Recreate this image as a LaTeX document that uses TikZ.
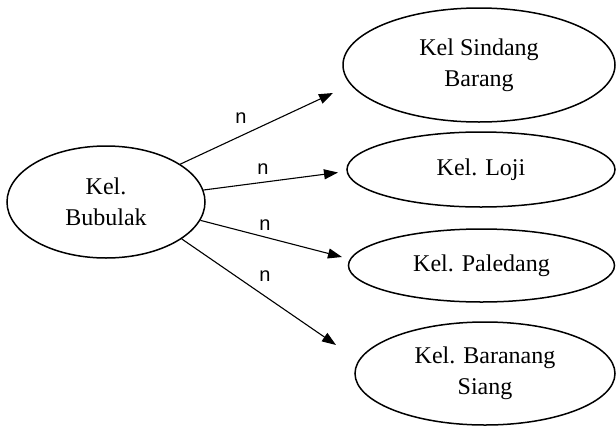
\documentclass[tikz,border=0pt]{standalone}
\usepackage{fontspec}
\setmainfont{Liberation Serif}
\newfontfamily\labelfont{Liberation Sans}
\usetikzlibrary{shapes.geometric,arrows.meta}
\tikzset{
  place/.style={ellipse,draw,line width=1.5pt,inner sep=0pt,align=center,
    font=\fontsize{24}{31}\selectfont},
  link/.style={line width=1.1pt,-{Triangle[length=14pt,width=10pt]}},
  nlabel/.style={font=\labelfont\fontsize{20}{22}\selectfont,inner sep=0pt}
}
\begin{document}
\begin{tikzpicture}[x=1pt,y=-1pt]
\useasboundingbox (0,0) rectangle (616,426);
\node[place,minimum width=198pt,minimum height=112pt] (bub) at (106,202) {Kel.\\Bubulak};
\node[place,minimum width=272pt,minimum height=114pt] (sin) at (479,65) {Kel Sindang\\Barang};
\node[place,minimum width=268pt,minimum height=75pt] (loj) at (481,169.5) {Kel. Loji};
\node[place,minimum width=266pt,minimum height=73pt] (pal) at (481.5,265.5) {Kel. Paledang};
\node[place,minimum width=260pt,minimum height=103pt] (bar) at (485,373.5) {Kel. Baranang\\Siang};
\coordinate (e1) at (333,93);
\coordinate (e2) at (338,172.5);
\coordinate (e3) at (342,257);
\coordinate (e4) at (336,345);
\draw[link] (bub.27.8) -- (e1);
\draw[link] (bub.7.6) -- (e2);
\draw[link] (bub.-11.8) -- (e3);
\draw[link] (bub.-26.3) -- (e4);
\node[nlabel] (n1) at (241,118) {n};
\node[nlabel] (n2) at (263,169) {n};
\node[nlabel] (n3) at (265,225) {n};
\node[nlabel] (n4) at (265,276) {n};
\end{tikzpicture}
\end{document}
